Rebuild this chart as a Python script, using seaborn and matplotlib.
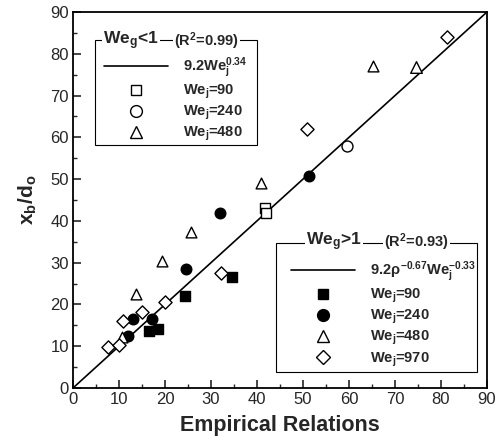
import matplotlib
matplotlib.use("Agg")
import matplotlib.pyplot as plt
import seaborn as sns
import pandas as pd
from matplotlib.lines import Line2D
from matplotlib.patches import Rectangle

sns.set_theme(style="white")
plt.rcParams['font.family'] = ['Liberation Sans', 'DejaVu Sans']
plt.rcParams['mathtext.fontset'] = 'custom'
plt.rcParams['mathtext.rm'] = 'Liberation Sans:bold'
plt.rcParams['mathtext.it'] = 'Liberation Sans:bold'
plt.rcParams['mathtext.bf'] = 'Liberation Sans:bold'

# ---- data (We_g < 1, open symbols) ----
lo_we90_x = [41.8, 42.0]
lo_we90_y = [43.2, 41.8]
lo_we240_x = [59.5]
lo_we240_y = [58.0]
lo_we480_x = [74.6]
lo_we480_y = [76.9]

# ---- data (We_g > 1) ----
hi_we90_x = [16.6, 18.4, 24.3, 34.6]
hi_we90_y = [13.6, 14.1, 22.0, 26.5]
hi_we240_x = [11.9, 13.1, 17.1, 24.5, 32.0, 51.3]
hi_we240_y = [12.5, 16.5, 16.5, 28.5, 42.0, 50.7]
hi_we480_x = [10.6, 13.6, 19.4, 25.6, 40.9, 65.3]
hi_we480_y = [12.3, 22.4, 30.5, 37.3, 49.1, 77.1]
hi_we970_x = [7.5, 9.9, 10.9, 15.1, 20.1, 32.1, 50.8, 81.2]
hi_we970_y = [9.9, 10.4, 16.1, 18.1, 20.7, 27.6, 62.1, 83.9]

line_x = [0, 90]
line_y = [0, 90]

fig = plt.figure(figsize=(5.01, 4.44), dpi=100)
W, H = 501, 444
ax = fig.add_axes([73 / W, 1 - 388 / H, (487 - 73) / W, (388 - 12) / H])

sns.lineplot(x=line_x, y=line_y, ax=ax, color='black', linewidth=1.2)

def scat(xs, ys, marker, filled, size):
    df = pd.DataFrame({'x': xs, 'y': ys})
    sns.scatterplot(data=df, x='x', y='y', ax=ax, marker=marker, s=size,
                    facecolor='black' if filled else 'white',
                    edgecolor='black', linewidth=1.0, zorder=3)

scat(lo_we90_x, lo_we90_y, 's', False, 50)
scat(lo_we240_x, lo_we240_y, 'o', False, 62)
scat(lo_we480_x, lo_we480_y, '^', False, 70)
scat(hi_we90_x, hi_we90_y, 's', True, 50)
scat(hi_we240_x, hi_we240_y, 'o', True, 58)
scat(hi_we480_x, hi_we480_y, '^', False, 60)
scat(hi_we970_x, hi_we970_y, 'D', False, 45)

ax.set_xlim(0, 90)
ax.set_ylim(0, 90)
ax.set_xticks(range(0, 91, 10))
ax.set_yticks(range(0, 91, 10))
ax.set_xticks(range(5, 90, 10), minor=True)
ax.set_yticks(range(5, 90, 10), minor=True)
ax.tick_params(which='major', direction='in', length=6, width=1.2, labelsize=12,
               bottom=True, left=True, top=False, right=False, pad=3)
ax.tick_params(which='minor', direction='in', length=3, width=1.0,
               bottom=True, left=True, top=False, right=False)
for s in ax.spines.values():
    s.set_color('black')
    s.set_linewidth(1.3)

ax.set_xlabel('Empirical Relations', fontsize=15.5, fontweight='bold', labelpad=6)
ax.set_ylabel(r'x$_\mathrm{b}$/d$_\mathrm{o}$', fontsize=15, fontweight='bold', labelpad=8)

# ---- legend 1 ----
def mk(marker, filled, ms):
    return Line2D([], [], linestyle='none', marker=marker, markersize=ms,
                  markerfacecolor='black' if filled else 'white',
                  markeredgecolor='black', markeredgewidth=1.0)

h1 = [Line2D([], [], color='black', lw=1.2), mk('s', False, 7.5), mk('o', False, 8.5), mk('^', False, 9)]
l1 = [r'9.2We$_\mathrm{j}^{0.34}$', r'We$_\mathrm{j}$=90', r'We$_\mathrm{j}$=240', r'We$_\mathrm{j}$=480']
leg1 = fig.legend(h1, l1, loc='upper left', bbox_to_anchor=(97 / W, 1 - 48 / H),
                  frameon=False, prop={'weight': 'bold', 'size': 10.5},
                  handlelength=4.4, handletextpad=1.0, labelspacing=0.2, borderpad=0)
fig.add_artist(Rectangle((95 / W, 1 - 145 / H), (257 - 95) / W, (145 - 40) / H,
                         transform=fig.transFigure, fill=False, edgecolor='black', lw=0.8))
fig.text(103 / W, 1 - 41 / H, r'We$_\mathrm{g}$<1', fontsize=12.5, fontweight='bold',
         va='center', ha='left', bbox=dict(facecolor='white', edgecolor='none', pad=1))
fig.text(174 / W, 1 - 41 / H, r'(R$^\mathrm{2}$=0.99)', fontsize=10.5, fontweight='bold',
         va='center', ha='left', bbox=dict(facecolor='white', edgecolor='none', pad=1))

# ---- legend 2 ----
h2 = [Line2D([], [], color='black', lw=1.2), mk('s', True, 7.5), mk('o', True, 8.5), mk('^', False, 9), mk('D', False, 7)]
l2 = [r'9.2$\rho^{-0.67}$We$_\mathrm{j}^{-0.33}$', r'We$_\mathrm{j}$=90', r'We$_\mathrm{j}$=240',
      r'We$_\mathrm{j}$=480', r'We$_\mathrm{j}$=970']
leg2 = fig.legend(h2, l2, loc='upper left', bbox_to_anchor=(284 / W, 1 - 252 / H),
                  frameon=False, prop={'weight': 'bold', 'size': 10.5},
                  handlelength=4.4, handletextpad=1.0, labelspacing=0.2, borderpad=0)
fig.add_artist(Rectangle((276 / W, 1 - 372 / H), (477 - 276) / W, (372 - 243) / H,
                         transform=fig.transFigure, fill=False, edgecolor='black', lw=0.8))
fig.text(306 / W, 1 - 242 / H, r'We$_\mathrm{g}$>1', fontsize=12.5, fontweight='bold',
         va='center', ha='left', bbox=dict(facecolor='white', edgecolor='none', pad=1))
fig.text(384 / W, 1 - 242 / H, r'(R$^\mathrm{2}$=0.93)', fontsize=10.5, fontweight='bold',
         va='center', ha='left', bbox=dict(facecolor='white', edgecolor='none', pad=1))

fig.savefig('out.png', dpi=100)
